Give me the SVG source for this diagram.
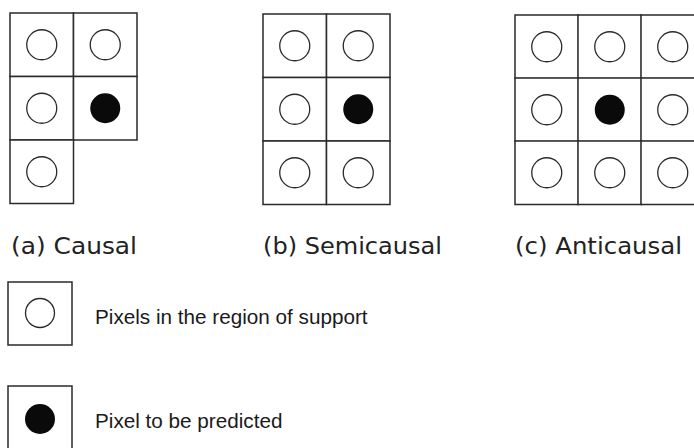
<svg xmlns="http://www.w3.org/2000/svg" width="694" height="448" viewBox="0 0 694 448">
<style>
.cell{fill:#fff;stroke:#2a2a2a;stroke-width:1.5}
.o{fill:none;stroke:#2a2a2a;stroke-width:1.3}
.f{fill:#0a0a0a;stroke:none}
.cap{font-family:"DejaVu Sans","Liberation Sans",sans-serif;font-size:22.5px;fill:#222}
.leg{font-family:"Liberation Sans",Arial,sans-serif;font-size:20.7px;fill:#1a1a1a}
</style>
<defs>
<g id="oc"><rect class="cell" x="0" y="0" width="63.5" height="63.5"/><circle class="o" cx="31.75" cy="31.75" r="15"/></g>
<g id="fc"><rect class="cell" x="0" y="0" width="63.5" height="63.5"/><circle class="f" cx="31.75" cy="31.75" r="15"/></g>
</defs>
<rect width="694" height="448" fill="#fff"/>
<g id="causal">
<use href="#oc" x="10" y="13"/>
<use href="#oc" x="73.5" y="13"/>
<use href="#oc" x="10" y="76.5"/>
<use href="#fc" x="73.5" y="76.5"/>
<use href="#oc" x="10" y="140"/>
<text class="cap" x="11" y="254" textLength="126" lengthAdjust="spacingAndGlyphs">(a) Causal</text>
</g>
<g id="semicausal">
<use href="#oc" x="263" y="14"/>
<use href="#oc" x="326.5" y="14"/>
<use href="#oc" x="263" y="77.5"/>
<use href="#fc" x="326.5" y="77.5"/>
<use href="#oc" x="263" y="141"/>
<use href="#oc" x="326.5" y="141"/>
<text class="cap" x="263" y="254" textLength="179" lengthAdjust="spacingAndGlyphs">(b) Semicausal</text>
</g>
<g id="anticausal">
<use href="#oc" x="515" y="15"/>
<use href="#oc" x="578" y="15"/>
<use href="#oc" x="641" y="15"/>
<use href="#oc" x="515" y="78"/>
<use href="#fc" x="578" y="78"/>
<use href="#oc" x="641" y="78"/>
<use href="#oc" x="515" y="141"/>
<use href="#oc" x="578" y="141"/>
<use href="#oc" x="641" y="141"/>
<text class="cap" x="515" y="254" textLength="167" lengthAdjust="spacingAndGlyphs">(c) Anticausal</text>
</g>
<g id="legend-support">
<rect class="cell" x="8" y="282" width="64" height="63"/>
<circle class="o" cx="40" cy="313" r="14.5"/>
<text class="leg" x="95" y="324">Pixels in the region of support</text>
</g>
<g id="legend-predicted">
<rect class="cell" x="8" y="386" width="64" height="70"/>
<circle class="f" cx="40" cy="419" r="15"/>
<text class="leg" x="95" y="428">Pixel to be predicted</text>
</g>
<g id="connectors"/>
</svg>
